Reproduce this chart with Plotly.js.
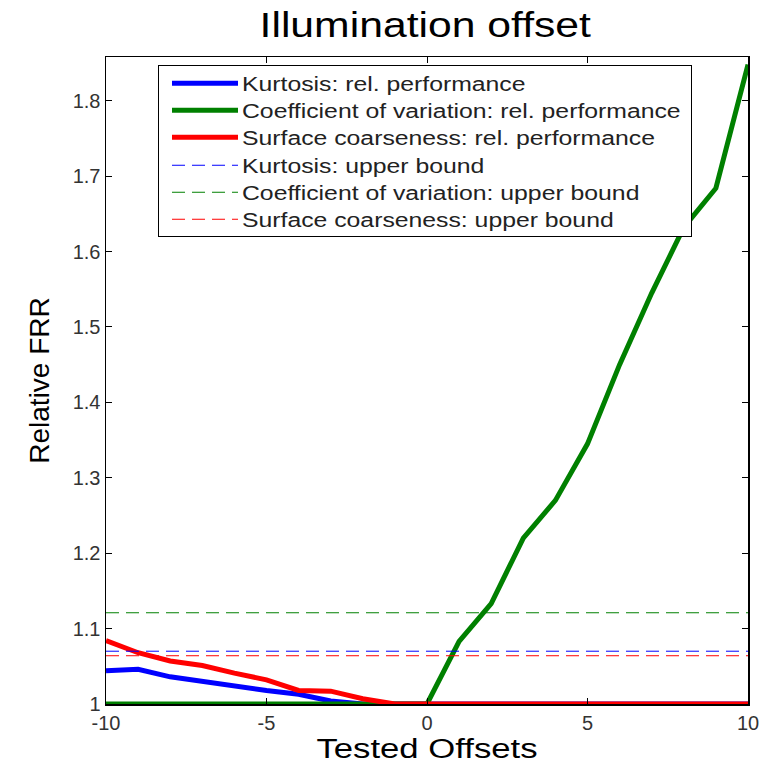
<!DOCTYPE html>
<html>
<head>
<meta charset="utf-8">
<script src="https://cdn.plot.ly/plotly-3.0.1.min.js"></script>
<style>html,body{margin:0;padding:0;background:#fff;}#chart{width:769px;height:763px;}</style>
</head>
<body>
<div id="chart"></div>
<script>
const offsets = [-10,-9,-8,-7,-6,-5,-4,-3,-2,-1,0,1,2,3,4,5,6,7,8,9,10];
const kurtosis = [1.044,1.046,1.036,1.030,1.023,1.018,1.013,1.004,1.0,1.0,1.0,1.0,1.0,1.0,1.0,1.0,1.0,1.0,1.0,1.0,1.0];
const coefVariation = [1.0,1.0,1.0,1.0,1.0,1.0,1.0,1.0,1.0,1.0,1.0,1.083,1.133,1.22,1.27,1.345,1.45,1.545,1.632,1.684,1.848];
const coarseness = [1.084,1.068,1.057,1.051,1.041,1.032,1.018,1.017,1.007,1.0,1.0,1.0,1.0,1.0,1.0,1.0,1.0,1.0,1.0,1.0,1.0];
const kurtosisBound = 1.07;
const coefVariationBound = 1.121;
const coarsenessBound = 1.064;
const seriesNames = ["Kurtosis: rel. performance","Coefficient of variation: rel. performance","Surface coarseness: rel. performance","Kurtosis: upper bound","Coefficient of variation: upper bound","Surface coarseness: upper bound"];
const xTicks = [-10,-5,0,5,10];
const yTicks = [1,1.1,1.2,1.3,1.4,1.5,1.6,1.7,1.8];

const xEnds = [offsets[0], offsets[offsets.length-1]];
const blue = "#0000ff", green = "#008000", red = "#ff0000";
const dashPat = "13px,7px";
const traces = [
  {x: offsets, y: kurtosis, name: seriesNames[0], mode: "lines", line: {color: blue, width: 5}},
  {x: offsets, y: coefVariation, name: seriesNames[1], mode: "lines", line: {color: green, width: 5}},
  {x: offsets, y: coarseness, name: seriesNames[2], mode: "lines", line: {color: red, width: 5}},
  {x: xEnds, y: [kurtosisBound, kurtosisBound], name: seriesNames[3], mode: "lines", line: {color: blue, width: 1, dash: dashPat}},
  {x: xEnds, y: [coefVariationBound, coefVariationBound], name: seriesNames[4], mode: "lines", line: {color: green, width: 1, dash: dashPat}},
  {x: xEnds, y: [coarsenessBound, coarsenessBound], name: seriesNames[5], mode: "lines", line: {color: red, width: 1, dash: dashPat}}
];
const axisCommon = {
  ticks: "inside", ticklen: 6, tickcolor: "#000", showline: true, linecolor: "#000", linewidth: 1.5, mirror: "ticks",
  showgrid: false, zeroline: false, tickfont: {size: 20, color: "#333"}
};
const layout = {
  width: 769, height: 763,
  margin: {l: 106, r: 21, t: 57, b: 59},
  paper_bgcolor: "#fff", plot_bgcolor: "#fff",
  font: {family: "Liberation Sans, Arial, sans-serif", color: "#000"},
  title: {text: "Illumination offset", font: {size: 35, color: "#000"}, x: 0.553, xanchor: "center", y: 0.968, yanchor: "middle"},
  xaxis: Object.assign({}, axisCommon, {
    range: [-10, 10], tickvals: xTicks, ticktext: xTicks.map(String),
    title: {text: "Tested Offsets", font: {size: 28, color: "#000"}, standoff: 12}
  }),
  yaxis: Object.assign({}, axisCommon, {
    range: [1, 1.858], tickvals: yTicks, ticktext: yTicks.map(String),
    title: {text: "Relative FRR", font: {size: 28, color: "#000"}, standoff: 15}
  }),
  showlegend: true,
  legend: {
    x: 0.081, y: 0.988, xanchor: "left", yanchor: "top",
    bordercolor: "#000", borderwidth: 1, bgcolor: "#fff",
    font: {size: 21, color: "#222"}, tracegroupgap: 0, itemwidth: 30
  }
};

function stretchText(el, s, dy) {
  const cx = parseFloat(el.getAttribute("x")) || 0;
  const prev = el.getAttribute("transform") || "";
  el.setAttribute("transform", prev + " translate(" + cx + "," + (dy || 0) + ") scale(" + s + ",1) translate(" + (-cx) + ",0)");
}

Plotly.newPlot("chart", traces, layout, {displayModeBar: false, staticPlot: true}).then(function (gd) {
  const t = gd.querySelector("text.gtitle"); if (t) stretchText(t, 1.22, 0);
  const xt = gd.querySelector("text.xtitle"); if (xt) stretchText(xt, 1.24, 1);
  // legend: longer samples, stretched text, tighter rows, wider box
  const S = 1.18, textX = 83, sampleStart = 13, sampleLen = 66, padR = 11;
  const rowTop = 18, rowGap = 27.2, boxH = 171;
  let maxW = 0;
  const items = gd.querySelectorAll("g.legend g.traces");
  items.forEach(function (g, i) {
    g.querySelectorAll("path.js-line").forEach(function (p) { p.setAttribute("d", "M" + sampleStart + ",0.5h" + sampleLen); });
    const txt = g.querySelector("text.legendtext");
    if (txt) {
      const w = txt.getBBox().width;
      maxW = Math.max(maxW, w * S);
      txt.setAttribute("x", textX);
      txt.setAttribute("transform", "translate(" + textX + ",0) scale(" + S + ",1) translate(" + (-textX) + ",0)");
    }
    const tr = g.getAttribute("transform") || "";
    const m = tr.match(/translate\(\s*([-\d.e]+)[ ,]+([-\d.e]+)\s*\)/);
    const tx = m ? parseFloat(m[1]) : 1;
    g.setAttribute("transform", "translate(" + tx + "," + Math.round(rowTop + rowGap * i) + ")");
  });
  const newW = textX + maxW + padR;
  const bg = gd.querySelector("g.legend rect.bg");
  if (bg) { bg.setAttribute("width", newW); bg.setAttribute("height", boxH); }
  const sb = gd.querySelector("g.legend g.scrollbox");
  const clipRef = sb && sb.getAttribute("clip-path");
  if (clipRef) {
    const id = clipRef.replace(/^url\(["']?#/, "").replace(/["']?\)$/, "");
    const cr = document.getElementById(id);
    if (cr) cr.querySelectorAll("rect").forEach(function (r) { r.setAttribute("width", newW); r.setAttribute("height", boxH); });
  }
});
</script>
</body>
</html>
